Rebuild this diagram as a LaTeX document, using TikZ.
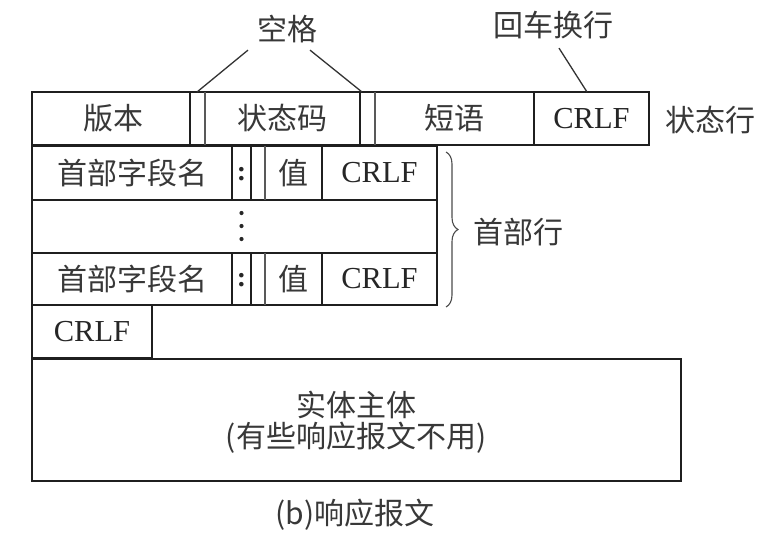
\documentclass[tikz,border=0pt]{standalone}
\usepackage{fontspec}
\setmainfont{Liberation Serif}
\newfontfamily\cjk{Noto Sans CJK SC}
\usetikzlibrary{decorations.pathreplacing}
\begin{document}
\begin{tikzpicture}[x=1pt,y=-1pt,
  thickline/.style={line width=2pt, black!88},
  thinline/.style={line width=1.1pt, black!65},
  leader/.style={line width=1.3pt, black!80},
  txt/.style={inner sep=0pt, font=\fontsize{30}{34}\selectfont\cjk, text=black!78},
  lat/.style={inner sep=0pt, font=\fontsize{30.5}{34}\selectfont, text=black!85},
]
\useasboundingbox[fill=white] (0,0) rectangle (778,539);
% status line
\draw[thickline] (32,92) rectangle (649,145);
\draw[thickline] (190,92) -- (190,145) (360,92) -- (360,145) (534,92) -- (534,145);
\draw[thinline] (205,92) -- (205,145) (375,92) -- (375,145);
\node[txt] (ver) at (113,118.5) {版本};
\node[txt] (code) at (282.5,118.5) {状态码};
\node[txt] (phr) at (454.5,118.5) {短语};
\node[lat] (crlfs) at (591.5,118.5) {CRLF};
\node[txt] (stl) at (710,120) {状态行};
% labels above
\node[txt] (kg) at (287,29) {空格};
\node[txt] (hc) at (553,25) {回车换行};
\coordinate (sp1) at (197,92);
\coordinate (sp2) at (362,92);
\coordinate (cr) at (587,92);
\draw[leader] ([xshift=-39pt,yshift=-7pt]kg.south) -- (sp1);
\draw[leader] ([xshift=23pt,yshift=-7pt]kg.south) -- (sp2);
\draw[leader] ([xshift=6pt,yshift=-9pt]hc.south) -- (cr);
% header lines
\draw[thickline] (32,146) rectangle (437,305);
\draw[thickline] (32,200) -- (437,200) (32,253) -- (437,253);
\foreach \yy/\yb in {146/200, 253/305}{
  \draw[thickline] (232,\yy) -- (232,\yb) (251,\yy) -- (251,\yb) (322,\yy) -- (322,\yb);
  \draw[thinline] (265,\yy) -- (265,\yb);
}
\node[txt] (n1) at (132,173) {首部字段名};
\node[lat,font=\fontsize{28}{32}\selectfont\bfseries] (c1) at (241.5,174) {:};
\node[txt] (v1) at (293.5,173) {值};
\node[lat] (r1) at (379.5,173) {CRLF};
\node[txt] (n3) at (132,279) {首部字段名};
\node[lat,font=\fontsize{28}{32}\selectfont\bfseries] (c3) at (241.5,280) {:};
\node[txt] (v3) at (293.5,279) {值};
\node[lat] (r3) at (379.5,279) {CRLF};
\foreach \yy in {213,226,239} \fill[black!85] (241.5,\yy) circle (2.1pt);
% brace
\draw[line width=1.1pt, black!70, decorate, decoration={brace, amplitude=12pt}] (446,152) -- (446,307);
\node[txt] (hl) at (518,232) {首部行};
% blank line
\draw[thickline] (32,305) rectangle (152,358);
\node[lat] (r4) at (92,331.5) {CRLF};
% body
\draw[thickline] (32,359) rectangle (681,481);
\node[txt] (b1) at (356,405) {实体主体};
\node[txt] (b2) at (356,438) {(有些响应报文不用)};
% caption
\node[txt] (cap) at (355,515) {(b)响应报文};
\end{tikzpicture}
\end{document}
